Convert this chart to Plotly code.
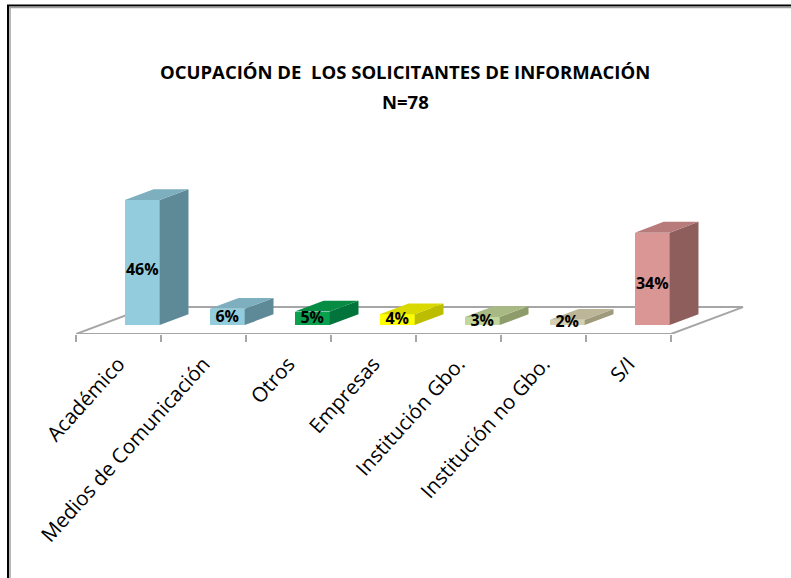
import plotly.graph_objects as go

# ---- data ----
categories = ["Académico", "Medios de Comunicación", "Otros", "Empresas",
              "Institución Gbo.", "Institución no Gbo.", "S/I"]
values = [46, 6, 5, 4, 3, 2, 34]
labels = ["46%", "6%", "5%", "4%", "3%", "2%", "34%"]
title_lines = ["OCUPACIÓN DE  LOS SOLICITANTES DE INFORMACIÓN", "N=78"]
front_colors = ["#93CDDD", "#93CDDD", "#0AA04E", "#FFFF00", "#C3D69B", "#D6D0B2", "#D99694"]
side_colors = ["#5E8A97", "#5E8A97", "#00743A", "#BDBD00", "#8E9C6C", "#A09A7C", "#8E5E5D"]
top_colors = ["#7DAFBE", "#7DAFBE", "#078C44", "#D9D900", "#A8B984", "#BCB597", "#B67B7A"]

# ---- oblique 3D projection parameters (data units) ----
DX = 0.847   # floor depth shift along x (categories)
DY = 9.9     # floor depth shift along y (percent units)
F0, F1 = 0.33, 0.73   # bar front/back depth fraction
BW = 0.41    # bar width
n = len(categories)

fig = go.Figure()

# front faces: real bars
xs = [i + F0 * DX for i in range(n)]
fig.add_trace(go.Bar(
    x=xs, y=values, base=[F0 * DY] * n, width=BW,
    marker=dict(color=front_colors, line=dict(width=0)),
    hoverinfo="skip", showlegend=False))

dxb = (F1 - F0) * DX
dyb = (F1 - F0) * DY
for i, v in enumerate(values):
    xl = xs[i] - BW / 2
    xr = xs[i] + BW / 2
    b = F0 * DY
    t = b + v
    # side face
    fig.add_trace(go.Scatter(
        x=[xr, xr + dxb, xr + dxb, xr, xr], y=[b, b + dyb, t + dyb, t, b],
        mode="lines", fill="toself", fillcolor=side_colors[i],
        line=dict(width=0, color=side_colors[i]), hoverinfo="skip", showlegend=False))
    # top face
    fig.add_trace(go.Scatter(
        x=[xl, xr, xr + dxb, xl + dxb, xl], y=[t, t, t + dyb, t + dyb, t],
        mode="lines", fill="toself", fillcolor=top_colors[i],
        line=dict(width=0, color=top_colors[i]), hoverinfo="skip", showlegend=False))

# data labels
fig.add_trace(go.Scatter(
    x=xs, y=[F0 * DY + v * 0.43 for v in values], mode="text", text=labels,
    textfont=dict(family="Open Sans", size=16, color="#000000", weight="bold"),
    hoverinfo="skip", showlegend=False))

# floor (shape below traces)
x0, x1 = -0.5, n - 0.5
floor_path = (f"M {x0} 0 L {x1} 0 L {x1 + DX} {DY} L {x0 + DX} {DY} Z")
shapes = [dict(type="path", path=floor_path, xref="x", yref="y", layer="below",
               fillcolor="white", line=dict(color="#A6A6A6", width=2))]

# chart frame (top and left borders)
L, R, T, B = 76, 31, 150, 244
W, H = 791, 578
pw, ph = W - L - R, H - T - B
def px2x(px):
    return (px - L) / pw
def py2y(py):
    return (H - B - py) / ph
shapes += [
    dict(type="line", xref="paper", yref="paper", x0=px2x(7), x1=px2x(791),
         y0=py2y(5.5), y1=py2y(5.5), line=dict(color="black", width=2)),
    dict(type="line", xref="paper", yref="paper", x0=px2x(8), x1=px2x(8),
         y0=py2y(5), y1=py2y(578), line=dict(color="black", width=2)),
    dict(type="line", xref="paper", yref="paper", x0=px2x(9), x1=px2x(791),
         y0=py2y(7.5), y1=py2y(7.5), line=dict(color="#A0A0A0", width=1.5)),
    dict(type="line", xref="paper", yref="paper", x0=px2x(10), x1=px2x(10),
         y0=py2y(7), y1=py2y(578), line=dict(color="#A0A0A0", width=1.5)),
]

annotations = [
    dict(text=f"<b>{title_lines[0]}</b>", xref="paper", yref="paper",
         x=px2x(405), y=py2y(71), xanchor="center", yanchor="middle", showarrow=False,
         font=dict(family="Open Sans", size=18.5, color="#000000")),
    dict(text=f"<b>{title_lines[1]}</b>", xref="paper", yref="paper",
         x=px2x(405), y=py2y(101), xanchor="center", yanchor="middle", showarrow=False,
         font=dict(family="Open Sans", size=18.5, color="#000000")),
]

fig.update_layout(
    width=W, height=H,
    margin=dict(l=L, r=R, t=T, b=B),
    paper_bgcolor="white", plot_bgcolor="rgba(0,0,0,0)",
    shapes=shapes,
    annotations=annotations,
    showlegend=False,
    xaxis=dict(range=[-0.5, -0.5 + pw / 85.0], tickmode="array",
               tickvals=list(range(n)), ticktext=categories, tickangle=-48,
               ticks="", showgrid=False, zeroline=False, showline=False,
               ticklabelstandoff=13,
               tickfont=dict(family="Open Sans", size=20.5, color="#000000"),
               minor=dict(tickmode="array", tickvals=[k - 0.5 for k in range(n + 1)],
                          ticks="outside", ticklen=7, tickwidth=2, tickcolor="#A6A6A6",
                          showgrid=False),
               fixedrange=True),
    yaxis=dict(range=[0, ph / 2.72], visible=False, fixedrange=True),
    bargap=0,
)

fig.write_html("out.html", config={"displayModeBar": False},
               post_script="document.body.style.margin='0';document.body.style.overflow='hidden';")
